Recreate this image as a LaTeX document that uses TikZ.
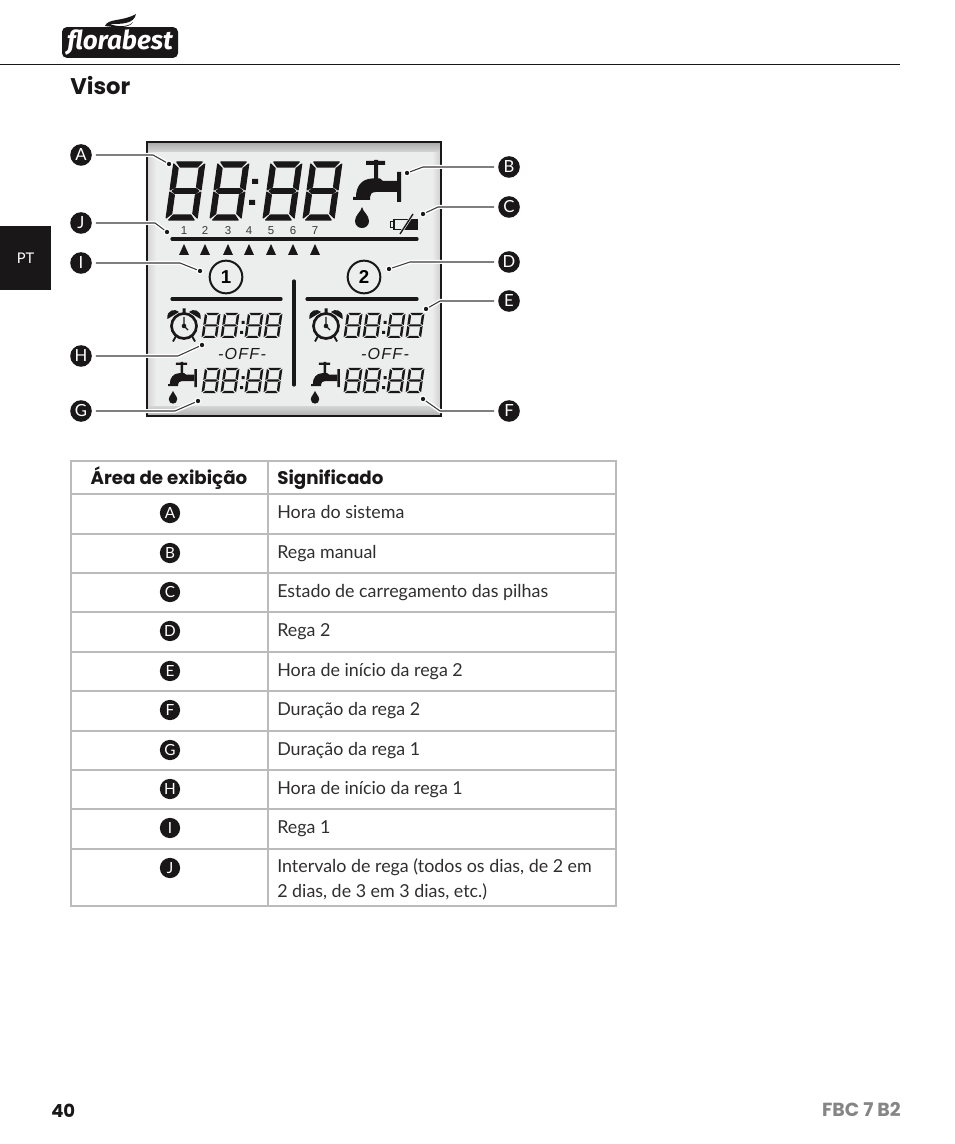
\documentclass[tikz,border=0pt]{standalone}
\usepackage{fontspec}
\usetikzlibrary{arrows.meta,positioning,calc}
\setmainfont{Lato}
\newfontfamily\headfont{Poppins}
\newfontfamily\lcdfont{Liberation Sans}
\newfontfamily\logofont{Fira Sans}
\definecolor{lcdgrey}{HTML}{ECEDED}
\definecolor{rulegrey}{HTML}{BBBBBB}
\definecolor{footgrey}{HTML}{858585}
\definecolor{inkblack}{HTML}{1A1718}
\newcommand{\bodysize}{\fontsize{13.4}{18.75}\selectfont}
\newcommand{\headsize}{\fontsize{13.7}{18}\selectfont\headfont\bfseries}

\tikzset{
  lcdeight/.pic={
    \path[fill=inkblack, pic actions] (.09,0) -- (.91,0) -- (.78,.17) -- (.22,.17) -- cycle
      (.17,.92) -- (.83,.92) -- (.93,1) -- (.83,1.08) -- (.17,1.08) -- (.07,1) -- cycle
      (.22,1.83) -- (.78,1.83) -- (.91,2) -- (.09,2) -- cycle
      (0,.07) -- (.16,.22) -- (.16,.86) -- (0,.96) -- cycle
      (1,.07) -- (.84,.22) -- (.84,.86) -- (1,.96) -- cycle
      (0,1.04) -- (.16,1.14) -- (.16,1.78) -- (0,1.93) -- cycle
      (1,1.04) -- (.84,1.14) -- (.84,1.78) -- (1,1.93) -- cycle;
  },
  tapicon/.pic={
    \fill[inkblack] (13,1) rectangle (32,5) (21,0) rectangle (25,21)
      (44,12) rectangle (48,42);
    \fill[inkblack] (44,21) -- (30,21) -- (27,18.5) -- (19,18.5) .. controls (8,19) and (3,27) .. (3,37) -- (0,37) -- (0,40)
      -- (17,40) -- (17,37) .. controls (17,34) and (19,32) .. (23,32) -- (44,32) -- cycle;
  },
  dropicon/.pic={
    \fill[inkblack] (0,0) .. controls (1,5) and (7,8) .. (7,14) .. controls (7,18.5) and (3.5,21) .. (0,21)
      .. controls (-3.5,21) and (-7,18.5) .. (-7,14) .. controls (-7,8) and (-1,5) .. (0,0);
  },
  clockicon/.pic={
    \draw[inkblack, line width=2pt] (0,0) circle[radius=12.5];
    \draw[inkblack, line width=1pt] (0,-9) -- (0,0) -- (4,4);
    \fill[inkblack] (0,0) circle[radius=2.3];
    \fill[inkblack] (-16.5,-7) .. controls (-18,-16) and (-9,-18) .. (-5,-14) -- cycle
      (16.5,-7) .. controls (18,-16) and (9,-18) .. (5,-14) -- cycle
      (-1.5,-17.5) rectangle (1.5,-13);
    \draw[inkblack, line width=1.4pt] (-8,10) -- (-11,15.5) (8,10) -- (11,15.5);
  },
  badge/.style={circle, fill=inkblack, text=white, minimum size=15.2pt, inner sep=0pt, font=\fontsize{11.5}{12}\selectfont},
  callbadge/.style={badge, minimum size=16.2pt, outer sep=3pt, font=\fontsize{12.5}{13}\selectfont},
  dotmark/.style={circle, fill=inkblack, draw=white, line width=.8pt, minimum size=4.4pt, inner sep=0pt},
  callout/.style={preaction={draw=white, line width=3pt}, draw=inkblack!85, line width=.8pt},
  lcdbar/.style={inkblack, line width=2.4pt, line cap=round},
  gridline/.style={rulegrey, line width=1.5pt},
  daylabel/.style={anchor=base, inner sep=0pt, font=\lcdfont\fontsize{8.6}{10}\selectfont, text=inkblack!85},
  offlabel/.style={font=\lcdfont\itshape\addfontfeature{LetterSpace=8}\fontsize{12}{12}\selectfont, text=inkblack},
  progmark/.style={circle, draw=inkblack, line width=1.5pt, minimum size=24.5pt, inner sep=0pt,
    font=\lcdfont\bfseries\fontsize{14}{14}\selectfont},
  rowlabel/.style={anchor=base west, inner sep=0pt, text=inkblack!90, font=\bodysize},
}

\begin{document}
\begin{tikzpicture}[x=.75pt, y=-.75pt]
  \path[use as bounding box, fill=white] (0,0) rectangle (954,1144);

  % page head
  \draw[inkblack, line width=.75pt] (0,65) -- (900,65);
  \node[fill=inkblack, rounded corners=3.5pt, minimum width=87pt, minimum height=23pt, inner sep=0pt,
    text=white, font=\logofont\bfseries\itshape\fontsize{19.5}{20}\selectfont] (logo) at (120,42.5) {f{}lorabest};
  \fill[inkblack] (105,26) .. controls (108,18) and (122,22) .. (136,14) .. controls (134,24) and (122,24) .. (110,24)
    .. controls (120,28) and (130,26) .. (133,22) .. controls (130,28) and (118,28) .. (105,26);
  \node[anchor=base west, inner sep=0pt, text=inkblack, font=\headfont\bfseries\fontsize{17}{18}\selectfont] (title) at (70,95) {Visor};
  \node[fill=inkblack, minimum width=38.25pt, minimum height=48pt, inner sep=0pt, text=white,
    font=\fontsize{11}{12}\selectfont] (langtab) at (25.5,258) {PT};

  % display
  \fill[lcdgrey] (147,142) rectangle (441,416);
  \shade[left color=black!16, right color=lcdgrey] (148,143) rectangle (156,415);
  \shade[left color=lcdgrey, right color=black!18] (432,143) rectangle (440,415);
  \shade[top color=black!32, bottom color=lcdgrey!90!black] (148,143) rectangle (440,152);
  \shade[top color=lcdgrey!90!black, bottom color=black!30] (148,406) rectangle (440,415);
  \draw[inkblack, line width=1.2pt] (147,142) rectangle (441,416);

  % digits
  \foreach \posx in {174,218,271,311}
    \pic[xslant=.14, xscale=31, yscale=29, draw=inkblack, line width=.9pt, line join=round] at (\posx,162) {lcdeight};
  \fill[inkblack] (252,179) rectangle +(6,5) (249,200) rectangle +(6,5);
  \foreach \posx/\posy in {205/313,224/313,248/313,267/313,205/368,224/368,248/368,267/368,
      347/313,366/313,390/313,409/313,347/368,366/368,390/368,409/368}
    \pic[xslant=.14, xscale=15.5, yscale=12.5] at (\posx,\posy) {lcdeight};
  \foreach \posx in {240,382} {
    \fill[inkblack] (\posx+1.5,321) rectangle +(3,3) (\posx,331) rectangle +(3,3)
      (\posx+1.5,376) rectangle +(3,3) (\posx,386) rectangle +(3,3);
  }

  % bars
  \draw[lcdbar] (172,239) -- (417,239);
  \draw[lcdbar] (172,299) -- (281,299);
  \draw[lcdbar] (307,299) -- (417,299);
  \draw[lcdbar] (294,281) -- (294,385);

  % week days
  \foreach \dayx/\dayn in {184/1,205/2,228/3,249/4,271/5,293/6,315/7} {
    \node[daylabel] (day\dayn) at (\dayx,235) {\dayn};
    \fill[inkblack] (\dayx-5,255) -- (\dayx+5,255) -- (\dayx,244) -- cycle;
  }

  % icons
  \pic at (353,160) {tapicon};
  \pic at (362,207) {dropicon};
  \pic[scale=.6] at (168,362) {tapicon};
  \pic[scale=.6] at (173,391) {dropicon};
  \pic[scale=.6] at (311,362) {tapicon};
  \pic[scale=.6] at (315,391) {dropicon};
  \pic at (184,326) {clockicon};
  \pic at (326,326) {clockicon};

  % battery
  \draw[inkblack, line width=1.1pt] (394,219.5) rectangle (417,229.5) (390.5,221.5) rectangle (394,227.5);
  \fill[inkblack] (408,219.5) -- (417,219.5) -- (417,229.5) -- (402,229.5) -- cycle;
  \draw[lcdgrey, line width=2pt] (400,234) -- (413,214);
  \draw[inkblack, line width=1pt] (400,234) -- (413,214);

  % program marks
  \node[progmark] (progone) at (226,277) {1};
  \node[progmark] (progtwo) at (364,277) {2};
  \node[offlabel] (offone) at (242,354) {-OFF-};
  \node[offlabel] (offtwo) at (385,354) {-OFF-};

  % callouts
  \foreach \letter/\bx/\by/\ex/\dx/\dy in {A/81/155/153/169/164, J/81/223/155/167/232, I/81/263/180/200/271,
      H/81/356/178/202/345, G/81/411/175/198/401, B/509/167/423/407/173, C/509/207/438/423/214,
      D/509/262/410/389/269, E/509/301/440/426/309, F/509/411/440/423/399} {
    \node[callbadge] (call\letter) at (\bx,\by) {\letter};
    \node[dotmark] (dot\letter) at (\dx,\dy) {};
    \coordinate (bend\letter) at (\ex,\by);
    \draw[callout] (call\letter) -- (bend\letter) -- (dot\letter);
  }

  % table
  \draw[gridline] (71,461) rectangle (616,906);
  \draw[gridline] (268,461) -- (268,906);
  \foreach \rowy in {494,534,573,612,652,691,731,770,809,849}
    \draw[gridline] (71,\rowy) -- (616,\rowy);
  \node[anchor=base, inner sep=0pt, text=inkblack, font=\headsize] (headarea) at (169,484) {Área de exibição};
  \node[anchor=base west, inner sep=0pt, text=inkblack, font=\headsize] (headmeaning) at (277,484) {Significado};
  \foreach \rowy/\letter/\rowtext in {494/A/Hora do sistema, 534/B/Rega manual, 573/C/Estado de carregamento das pilhas,
      612/D/Rega 2, 652/E/Hora de início da rega 2, 691/F/Duração da rega 2, 731/G/Duração da rega 1,
      770/H/Hora de início da rega 1, 809/I/Rega 1} {
    \node[badge] (row\letter) at (170,\rowy+19) {\letter};
    \node[rowlabel] (text\letter) at (277,\rowy+24) {\rowtext};
  }
  \node[badge] (rowJ) at (170,868) {J};
  \node[rowlabel] (textJ) at (277,872) {Intervalo de rega (todos os dias, de 2 em};
  \node[rowlabel] (textJtwo) at (277,897) {2 dias, de 3 em 3 dias, etc.)};

  % page foot
  \node[anchor=base west, inner sep=0pt, text=inkblack, font=\headfont\bfseries\fontsize{13.5}{14}\selectfont] (pagenum) at (51,1117) {40};
  \node[anchor=base east, inner sep=0pt, text=footgrey, font=\headfont\bfseries\fontsize{14.2}{15}\selectfont] (model) at (901,1116) {FBC 7 B2};
\end{tikzpicture}
\end{document}
